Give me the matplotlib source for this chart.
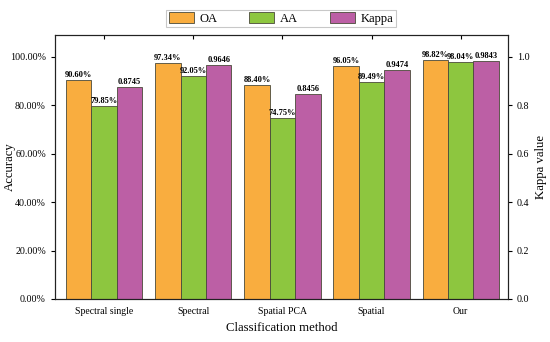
import matplotlib
matplotlib.use("Agg")
import matplotlib.pyplot as plt
import numpy as np
from matplotlib.ticker import FuncFormatter

plt.rcParams['font.family'] = ['Liberation Serif', 'DejaVu Serif']

categories = ["Spectral single", "Spectral", "Spatial PCA", "Spatial", "Our"]
oa = [90.60, 97.34, 88.40, 96.05, 98.82]
aa = [79.85, 92.05, 74.75, 89.49, 98.04]
kappa = [0.8745, 0.9646, 0.8456, 0.9474, 0.9843]

c_oa = "#F9AD3F"
c_aa = "#8DC63F"
c_k = "#BC5FA5"
edge = "#4a4a3a"

fig = plt.figure(figsize=(5.5, 3.42), dpi=100)
ax = fig.add_axes([55/550, 1-299/342, (508-55)/550, (299-35)/342])
ax2 = ax.twinx()

x = np.arange(len(categories))
w = 0.285
ax.bar(x - w, [v/100 for v in oa], w, color=c_oa, edgecolor=edge, linewidth=0.6, label="OA", zorder=2)
ax.bar(x, [v/100 for v in aa], w, color=c_aa, edgecolor=edge, linewidth=0.6, label="AA", zorder=2)
ax.bar(x + w, kappa, w, color=c_k, edgecolor=edge, linewidth=0.6, label="Kappa", zorder=2)

lab = dict(fontsize=6, fontweight='bold', ha='center', va='bottom')
for i in range(len(categories)):
    ax.text(x[i]-w, oa[i]/100 + 0.004, f"{oa[i]:.2f}%", **lab)
    ax.text(x[i], aa[i]/100 + 0.004, f"{aa[i]:.2f}%", **lab)
    ax.text(x[i]+w, kappa[i] + 0.004, f"{kappa[i]:.4f}", **lab)

ax.set_xlim(-0.55, 4.53)
ax.set_ylim(0, 1.09)
ax2.set_ylim(0, 1.09)
ax.set_yticks(np.arange(0, 1.01, 0.2))
ax.yaxis.set_major_formatter(FuncFormatter(lambda v, p: f"{v*100:.2f}%"))
ax2.set_yticks(np.arange(0, 1.01, 0.2))
ax2.yaxis.set_major_formatter(FuncFormatter(lambda v, p: f"{v:.1f}"))

ax.set_xticks(x)
ax.set_xticklabels(categories)
ax.tick_params(axis='x', direction='in', top=True, length=3, width=0.8, labelsize=7, pad=6)
ax.tick_params(axis='y', direction='out', length=3, width=0.8, labelsize=7.2)
ax2.tick_params(axis='y', direction='out', length=3, width=0.8, labelsize=7.2)

ax.set_xlabel("Classification method", fontsize=9.2, labelpad=4)
ax.set_ylabel("Accuracy", fontsize=9.2)
ax.yaxis.set_label_coords((16-55)/453, 0.5)
ax2.set_ylabel("Kappa value", fontsize=9.2)
ax2.yaxis.set_label_coords((535-55)/453, 0.5)

for a in (ax, ax2):
    for s in a.spines.values():
        s.set_linewidth(0.8)
        s.set_color("#222222")

handles, labels = ax.get_legend_handles_labels()
leg = fig.legend(handles, labels, loc='center', bbox_to_anchor=(281/550, 1-18.5/342), ncol=3,
                 fontsize=9, frameon=True, fancybox=False, edgecolor="#bbbbbb",
                 handlelength=2.0, handleheight=1.0, columnspacing=2.5, borderpad=0.2,
                 handletextpad=0.5, borderaxespad=0)
leg.get_frame().set_linewidth(0.8)

fig.savefig("out.png", dpi=100)
